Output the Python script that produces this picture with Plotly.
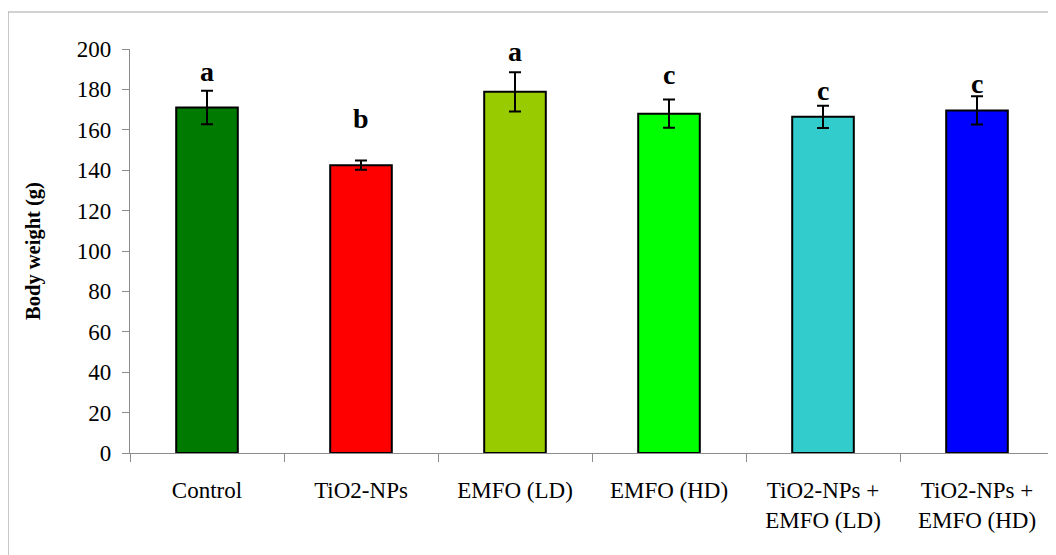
import plotly.graph_objects as go

categories = ["Control", "TiO2-NPs", "EMFO (LD)", "EMFO (HD)",
              "TiO2-NPs +<br>EMFO (LD)", "TiO2-NPs +<br>EMFO (HD)"]
means = [171.0, 142.5, 178.8, 168.0, 166.4, 169.6]
errors = [8.3, 2.3, 9.7, 7.0, 5.5, 7.0]
letters = ["a", "b", "a", "c", "c", "c"]
letter_y = [188.8, 165.8, 198.7, 187.6, 179.7, 182.7]
colors = ["#007A00", "#FF0000", "#99CC00", "#00FF00", "#33CCCC", "#0000FF"]

SERIF = "Liberation Serif, Times New Roman, serif"

fig = go.Figure()
fig.add_trace(go.Bar(
    x=categories, y=means, width=0.40,
    marker=dict(color=colors, line=dict(color="black", width=2)),
    error_y=dict(type="data", array=errors, visible=True,
                 color="black", thickness=2, width=6),
    showlegend=False,
))

for c, l, ly in zip(categories, letters, letter_y):
    fig.add_annotation(x=c, y=ly, xref="x", yref="y", text=f"<b>{l}</b>",
                       showarrow=False, yanchor="middle",
                       font=dict(family=SERIF, size=28, color="black"))

fig.add_shape(type="rect", xref="paper", yref="paper",
              x0=-0.132, x1=1.0015, y0=-0.26, y1=1.0916,
              line=dict(color="#a6a6a6", width=1.2), layer="below")

fig.update_layout(
    width=1048, height=547,
    margin=dict(l=122, r=2, t=41, b=102),
    plot_bgcolor="white", paper_bgcolor="white",
    font=dict(family=SERIF, color="black"),
    xaxis=dict(
        type="category", showline=True, linecolor="#8c8c8c", linewidth=1.2,
        ticks="outside", tickson="boundaries", ticklen=8, tickcolor="#8c8c8c",
        ticklabelstandoff=16,
        tickfont=dict(family=SERIF, size=23, color="black"),
        showgrid=False,
    ),
    yaxis=dict(
        range=[0, 200], dtick=20, showline=True, linecolor="#8c8c8c", linewidth=1.2,
        ticks="outside", ticklen=7, tickcolor="#8c8c8c", showgrid=False, zeroline=False,
        ticklabelstandoff=6,
        tickfont=dict(family=SERIF, size=23, color="black"),
        title=dict(text="<b>Body weight (g)</b>", standoff=30,
                   font=dict(family=SERIF, size=20.5, color="black")),
    ),
)

fig.write_html("out.html")
